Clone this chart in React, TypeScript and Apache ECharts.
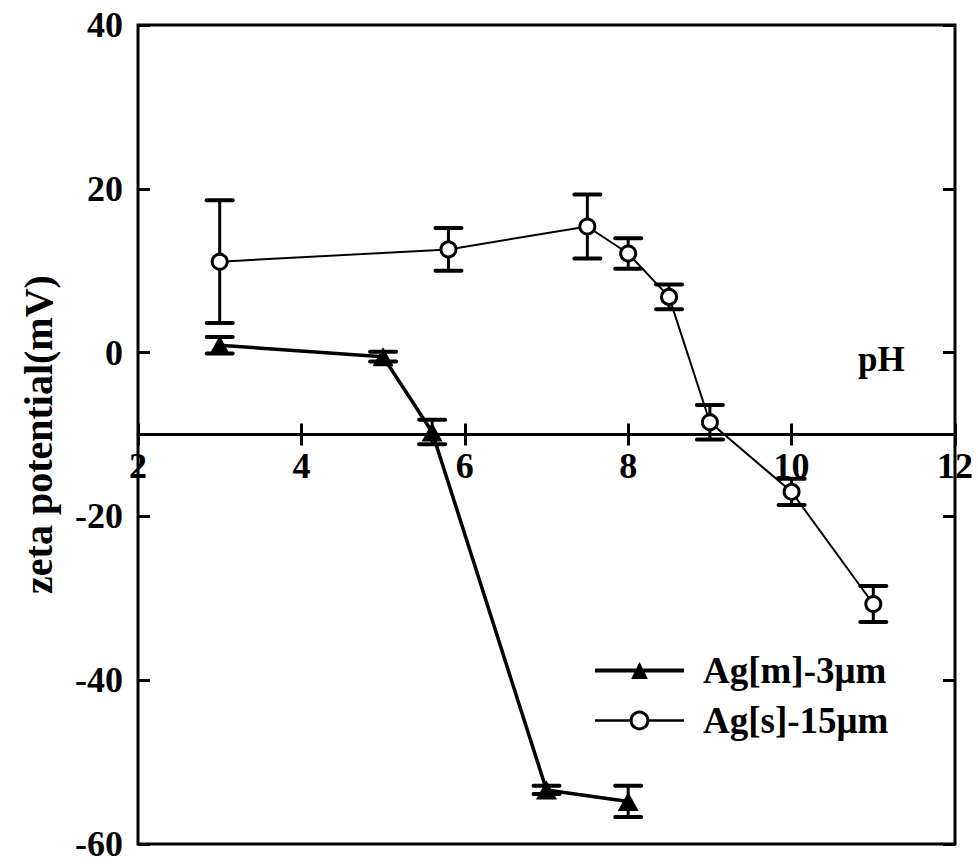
import React, { useEffect, useRef } from "react";
import * as echarts from "echarts";

// ---- data ----
const phM = [3, 5, 5.6, 7, 8];
const zetaM = [0.9, -0.5, -9.7, -53.4, -54.8];
const errM = [1.0, 0.6, 1.5, 0.5, 1.9];

const phS = [3, 5.8, 7.5, 8, 8.5, 9, 10, 11];
const zetaS = [11.1, 12.6, 15.4, 12.1, 6.8, -8.5, -17.0, -30.7];
const errS = [7.5, 2.6, 3.9, 1.85, 1.5, 2.1, 1.6, 2.2];

const seriesNames = ["Ag[m]-3\u03bcm", "Ag[s]-15\u03bcm"];
const xMin = 2, xMax = 12, xStep = 2;
const yMin = -60, yMax = 40, yStep = 20;
const xAxisCrossAt = -10;

const FONT = "'Liberation Serif', 'Times New Roman', serif";

const GRID_H = 819;
// offset (px) that lifts the bottom x axis up to the value xAxisCrossAt
const xAxisOffset = -GRID_H * (xAxisCrossAt - yMin) / (yMax - yMin);

function errData(xs: number[], ys: number[], es: number[]) {
  return xs.map((x, i) => [x, ys[i] - es[i], ys[i] + es[i]]);
}

function renderErr(params: any, api: any) {
  const x = api.value(0);
  const lo = api.value(1);
  const hi = api.value(2);
  const pLo = api.coord([x, lo]);
  const pHi = api.coord([x, hi]);
  const hw = 13;
  const st = { stroke: "#000", lineWidth: 3, lineCap: "round" };
  const cap = { stroke: "#000", lineWidth: 4, lineCap: "round" };
  return {
    type: "group",
    children: [
      { type: "line", shape: { x1: pLo[0], y1: pLo[1], x2: pHi[0], y2: pHi[1] }, style: st },
      { type: "line", shape: { x1: pLo[0] - hw, y1: pLo[1], x2: pLo[0] + hw, y2: pLo[1] }, style: cap },
      { type: "line", shape: { x1: pHi[0] - hw, y1: pHi[1], x2: pHi[0] + hw, y2: pHi[1] }, style: cap },
    ],
  };
}

export default function App() {
  const ref = useRef<HTMLDivElement>(null);
  useEffect(() => {
    if (!ref.current) return;
    const chart = echarts.init(ref.current, null, { renderer: "svg" });
    const labelStyle = { color: "#000", fontFamily: FONT, fontWeight: "bold", fontSize: 36 };
    chart.setOption({
      animation: false,
      backgroundColor: "#fff",
      textStyle: { fontFamily: FONT, color: "#000" },
      grid: {
        left: 138,
        top: 25,
        width: 817,
        height: GRID_H,
        show: true,
        borderColor: "#000",
        borderWidth: 3,
        backgroundColor: "transparent",
        containLabel: false,
        outerBoundsMode: "none",
      },
      xAxis: [
        {
          type: "value",
          min: xMin,
          max: xMax,
          interval: xStep,
          position: "bottom",
          offset: xAxisOffset,
          axisLine: { show: true, onZero: false, lineStyle: { color: "#000", width: 3 } },
          axisTick: { show: true, inside: false, length: 11, lineStyle: { color: "#000", width: 3 } },
          axisLabel: { ...labelStyle, margin: 13 },
          splitLine: { show: false },
        },
        {
          type: "value",
          min: xMin,
          max: xMax,
          interval: xStep,
          position: "bottom",
          offset: xAxisOffset,
          axisLine: { show: false, onZero: false },
          axisTick: { show: true, inside: true, length: 11, lineStyle: { color: "#000", width: 3 } },
          axisLabel: { show: false },
          splitLine: { show: false },
        },
      ],
      yAxis: [
        {
          type: "value",
          min: yMin,
          max: yMax,
          interval: yStep,
          position: "left",
          axisLine: { show: false },
          axisTick: { show: true, inside: true, length: 12, lineStyle: { color: "#000", width: 3 } },
          axisLabel: { ...labelStyle, margin: 15 },
          splitLine: { show: false },
          name: "zeta potential(mV)",
          nameLocation: "middle",
          nameGap: 80,
          nameRotate: 90,
          nameTextStyle: { color: "#000", fontFamily: FONT, fontWeight: "bold", fontSize: 40 },
        },
        {
          type: "value",
          min: yMin,
          max: yMax,
          interval: yStep,
          position: "right",
          axisLine: { show: false },
          axisTick: { show: true, inside: true, length: 12, lineStyle: { color: "#000", width: 3 } },
          axisLabel: { show: false },
          splitLine: { show: false },
        },
      ],
      legend: {
        orient: "vertical",
        left: 588,
        top: 647,
        itemWidth: 89,
        itemHeight: 21,
        itemGap: 13,
        data: [
          { name: seriesNames[0], lineStyle: { width: 4, color: "#000" } },
          { name: seriesNames[1], lineStyle: { width: 2.5, color: "#000" }, itemStyle: { borderWidth: 3, borderColor: "#000", color: "#fff" } },
        ],
        textStyle: { color: "#000", fontFamily: FONT, fontWeight: "bold", fontSize: 37, lineHeight: 37, padding: [0, 0, 0, 14] },
      },
      graphic: [
        {
          type: "text",
          left: 858,
          top: 342,
          style: { text: "pH", fill: "#000", font: "bold 35px " + FONT },
        },
      ],
      series: [
        {
          type: "custom",
          name: "errM",
          renderItem: renderErr,
          data: errData(phM, zetaM, errM),
          encode: { x: 0, y: [1, 2] },
          z: 1,
          silent: true,
        },
        {
          type: "custom",
          name: "errS",
          renderItem: renderErr,
          data: errData(phS, zetaS, errS),
          encode: { x: 0, y: [1, 2] },
          z: 1,
          silent: true,
        },
        {
          type: "line",
          name: seriesNames[0],
          data: phM.map((x, i) => [x, zetaM[i]]),
          symbol: "triangle",
          symbolSize: [21, 19],
          showAllSymbol: true,
          itemStyle: { color: "#000" },
          lineStyle: { color: "#000", width: 3.5 },
          z: 3,
        },
        {
          type: "line",
          name: seriesNames[1],
          data: phS.map((x, i) => [x, zetaS[i]]),
          symbol: "circle",
          symbolSize: 15,
          showAllSymbol: true,
          itemStyle: { color: "#fff", borderColor: "#000", borderWidth: 3 },
          lineStyle: { color: "#000", width: 2 },
          z: 3,
        },
      ],
    });
    return () => chart.dispose();
  }, []);
  return (
    <div
      ref={ref}
      style={{ position: "absolute", left: 0, top: 0, width: 978, height: 864, background: "#fff" }}
    />
  );
}
